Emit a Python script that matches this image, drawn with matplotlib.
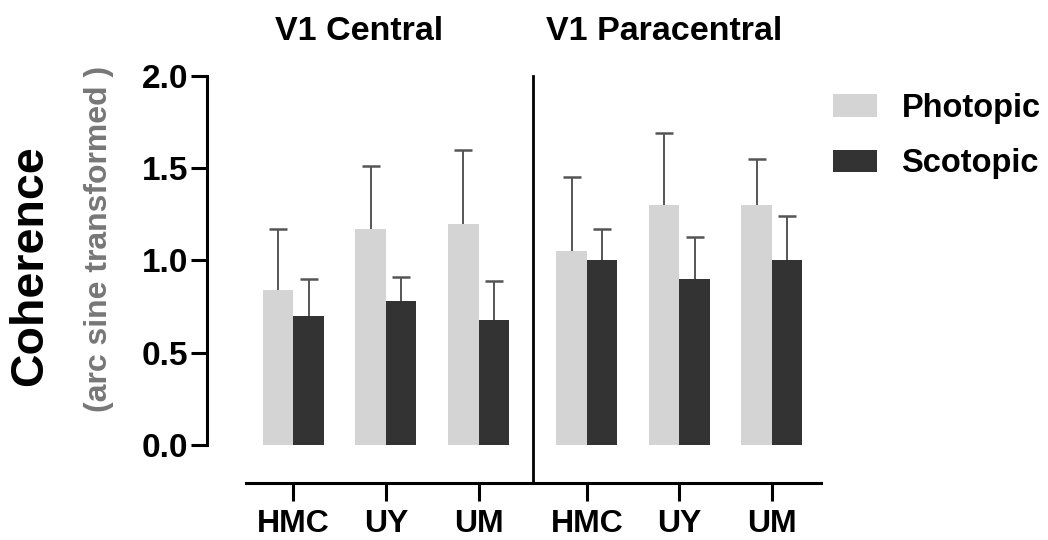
import matplotlib
matplotlib.use("Agg")
import matplotlib.pyplot as plt
import numpy as np

plt.rcParams['font.family'] = ['Liberation Sans', 'DejaVu Sans']
plt.rcParams['font.weight'] = 'bold'

# data
groups = ['HMC', 'UY', 'UM', 'HMC', 'UY', 'UM']
regions = ['V1 Central', 'V1 Paracentral']
photopic_mean = [0.84, 1.17, 1.20, 1.05, 1.30, 1.30]
photopic_err = [0.33, 0.34, 0.40, 0.40, 0.39, 0.25]
scotopic_mean = [0.70, 0.78, 0.68, 1.00, 0.90, 1.00]
scotopic_err = [0.20, 0.13, 0.21, 0.17, 0.23, 0.24]

photo_color = '#d4d4d4'
scoto_color = '#333333'
err_color = '#555555'

# group positions: two panels, a wider gap between them
x = np.array([0, 1, 2, 3.17, 4.17, 5.17])
w = 0.33
divider = 2.585

fig = plt.figure(figsize=(10.48, 5.4), dpi=100)
ax = fig.add_axes([207 / 1048, (540 - 483) / 540, (821 - 207) / 1048, (483 - 76) / 540])

ekw = dict(ecolor=err_color, elinewidth=1.4, capsize=6.5, capthick=1.8, zorder=1)
b1 = ax.bar(x - w / 2, photopic_mean, w, color=photo_color, label='Photopic',
            yerr=[np.zeros(6), photopic_err], error_kw=ekw, zorder=2)
b2 = ax.bar(x + w / 2, scotopic_mean, w, color=scoto_color, label='Scotopic',
            yerr=[np.zeros(6), scotopic_err], error_kw=ekw, zorder=2)
# only the upper cap is shown
for b in (b1, b2):
    b.errorbar.lines[1][0].set_visible(False)

ax.set_xlim(-0.933, 5.70)
ax.set_ylim(-0.206, 2.0)

for s in ['top', 'right']:
    ax.spines[s].set_visible(False)
ax.spines['left'].set_bounds(0, 2.0)
ax.spines['bottom'].set_bounds(-0.51, 5.70)
ax.spines['left'].set_linewidth(2.2)
ax.spines['bottom'].set_linewidth(2.2)

ax.plot([divider, divider], [-0.206, 2.0], color='black', lw=2.0, clip_on=False)

ax.set_yticks([0, 0.5, 1.0, 1.5, 2.0])
ax.set_yticklabels(['0.0', '0.5', '1.0', '1.5', '2.0'], fontsize=24, fontweight='bold')
ax.tick_params(axis='y', length=11.5, width=2.2, pad=2)
ax.set_xticks(x)
ax.set_xticklabels(groups, fontsize=23, fontweight='bold')
ax.tick_params(axis='x', length=13, width=2.2, pad=6)

fig.text(30 / 1048, 1 - 266 / 540, 'Coherence', rotation=90, ha='center', va='center',
         fontsize=33.5, fontweight='bold')
fig.text(99 / 1048, 1 - 239 / 540, '(arc sine transformed )', rotation=90, ha='center',
         va='center', fontsize=23, fontweight='bold', color='#777777')

fig.text(359 / 1048, 1 - 32 / 540, regions[0], ha='center', va='center',
         fontsize=24.5, fontweight='bold')
fig.text(664 / 1048, 1 - 32 / 540, regions[1], ha='center', va='center',
         fontsize=24.5, fontweight='bold')

fig.legend(loc='upper left', bbox_to_anchor=(833 / 1048, 1 - 93 / 540), frameon=False,
           prop=dict(size=23.5, weight='bold'), handlelength=1.34, handleheight=0.67,
           handletextpad=0.76, labelspacing=0.75, borderpad=0, borderaxespad=0)

fig.savefig('out.png', dpi=100)
